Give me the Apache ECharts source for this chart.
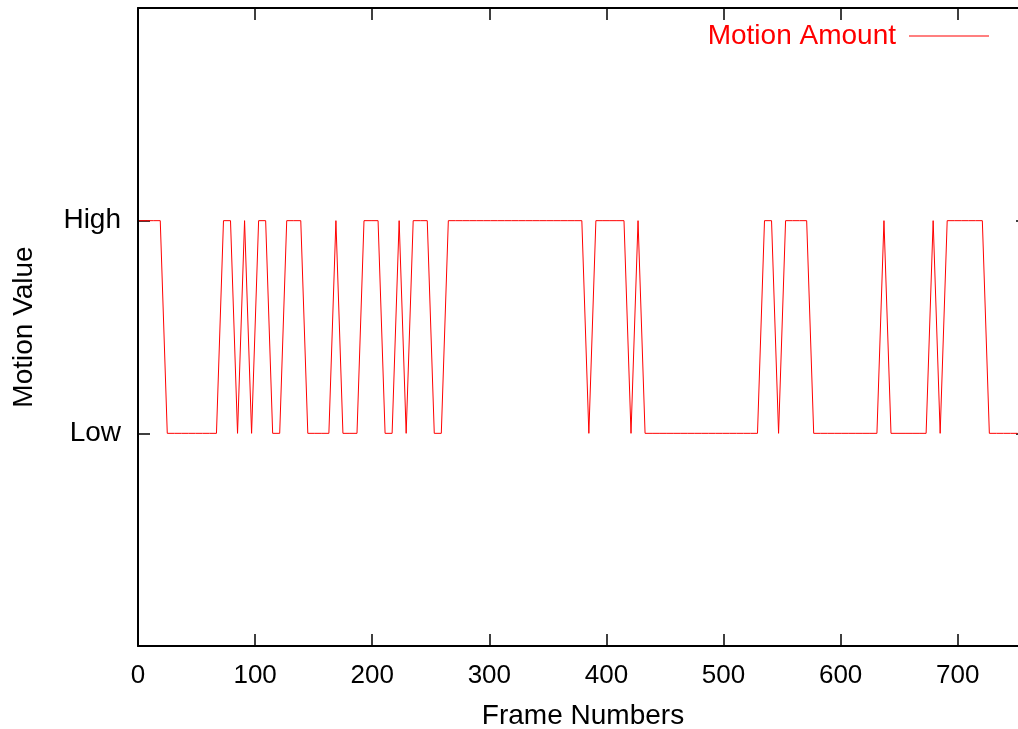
<!DOCTYPE html>
<html>
<head>
<meta charset="utf-8">
<script src="https://cdn.jsdelivr.net/npm/echarts@6/dist/echarts.min.js"></script>
<style>
html,body{margin:0;padding:0;background:#fff;}
#chart{width:1018px;height:729px;}
</style>
</head>
<body>
<div id="chart"></div>
<script>
var seriesName = 'Motion Amount';
var xTitle = 'Frame Numbers';
var yTitle = 'Motion Value';
var yTickLabels = ['', 'Low', 'High', ''];

var frames = [
  1,7,13,19,25,31,37,43,49,55,
  61,67,73,79,85,91,97,103,109,115,
  121,127,133,139,145,151,157,163,169,175,
  181,187,193,199,205,211,217,223,229,235,
  241,247,253,259,265,271,277,283,289,295,
  301,307,313,319,325,331,337,343,349,355,
  361,367,373,379,385,391,397,403,409,415,
  421,427,433,439,445,451,457,463,469,475,
  481,487,493,499,505,511,517,523,529,535,
  541,547,553,559,565,571,577,583,589,595,
  601,607,613,619,625,631,637,643,649,655,
  661,667,673,679,685,691,697,703,709,715,
  721,727,733,739,745,751
];

var motion = [
  2,2,2,2,1,1,1,1,1,1,
  1,1,2,2,1,2,1,2,2,1,
  1,2,2,2,1,1,1,1,2,1,
  1,1,2,2,2,1,1,2,1,2,
  2,2,1,1,2,2,2,2,2,2,
  2,2,2,2,2,2,2,2,2,2,
  2,2,2,2,1,2,2,2,2,2,
  1,2,1,1,1,1,1,1,1,1,
  1,1,1,1,1,1,1,1,1,2,
  2,1,2,2,2,2,1,1,1,1,
  1,1,1,1,1,1,2,1,1,1,
  1,1,1,2,1,2,2,2,2,2,
  2,1,1,1,1,1
];

var FONT = '"Liberation Sans", Arial, Helvetica, sans-serif';
var FS = 28;
var FS_NUM = 26;

var chart = echarts.init(document.getElementById('chart'), null, {renderer: 'canvas'});
var pairs = frames.map(function (f, i) { return [f, motion[i]]; });

var axisLine = {show: true, onZero: false, lineStyle: {color: '#000', width: 2}};
var tick = {show: true, inside: true, length: 12, lineStyle: {color: '#000', width: 1.5}};

chart.setOption({
  animation: false,
  backgroundColor: '#fff',
  textStyle: {fontFamily: FONT},
  grid: {left: 138, top: 8, width: 890, height: 638, containLabel: false, outerBoundsMode: 'none'},
  legend: {
    show: true,
    right: 24,
    top: 17,
    align: 'right',
    itemWidth: 80,
    itemHeight: 14,
    itemGap: 10,
    textStyle: {color: '#ff0000', fontSize: FS, fontFamily: FONT, padding: [0, 8, 0, 0]},
    data: [{name: seriesName, icon: 'path://M0,7 L80,7 L80,8 L0,8 Z'}]
  },
  xAxis: [
    {
      type: 'value', position: 'bottom', min: 0, max: 760, interval: 100,
      name: xTitle, nameLocation: 'middle', nameGap: 56,
      nameTextStyle: {fontSize: FS, color: '#000', fontFamily: FONT},
      axisLine: axisLine, axisTick: tick,
      axisLabel: {color: '#000', fontSize: FS_NUM, fontFamily: FONT, margin: 17, showMaxLabel: false},
      splitLine: {show: false}
    },
    {
      type: 'value', position: 'top', min: 0, max: 760, interval: 100,
      axisLine: axisLine, axisTick: tick,
      axisLabel: {show: false}, splitLine: {show: false}
    }
  ],
  yAxis: [
    {
      type: 'value', position: 'left', min: 0, max: 3, interval: 1,
      name: yTitle, nameLocation: 'middle', nameGap: 100, nameRotate: 90,
      nameTextStyle: {fontSize: FS, color: '#000', fontFamily: FONT},
      axisLine: axisLine, axisTick: tick,
      axisLabel: {color: '#000', fontSize: FS, fontFamily: FONT, margin: 17,
        formatter: function (v) { return yTickLabels[Math.round(v)] || ''; }},
      splitLine: {show: false}
    },
    {
      type: 'value', position: 'right', min: 0, max: 3, interval: 1,
      axisLine: axisLine, axisTick: tick,
      axisLabel: {show: false}, splitLine: {show: false}
    }
  ],
  series: [{
    name: seriesName,
    type: 'line',
    data: pairs,
    showSymbol: false,
    symbol: 'none',
    color: '#ff0000',
    lineStyle: {color: '#ff0000', width: 1},
    clip: true
  }]
});
</script>
</body>
</html>
